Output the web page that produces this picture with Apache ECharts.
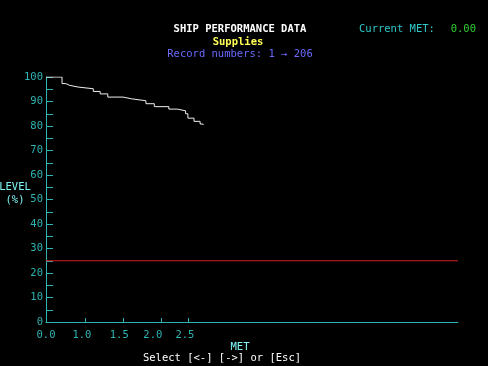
<!DOCTYPE html>
<html>
<head>
<meta charset="utf-8">
<script src="https://cdn.jsdelivr.net/npm/echarts@6/dist/echarts.min.js"></script>
<style>
html,body{margin:0;padding:0;background:#000;}
#chart{width:488px;height:366px;}
</style>
</head>
<body>
<div id="chart"></div>
<script>
// Data (x in record units along the MET axis, y = level %)
const xAxisMax = 540;
const levelRecords = [0, 21, 26, 31, 42, 62, 71, 81, 101, 112, 131, 142, 161, 172, 183, 186, 194, 202, 206];
const levelValues  = [100, 97.3, 96.6, 95.9, 95.2, 94.1, 93.1, 91.8, 91.1, 90.3, 89.1, 87.9, 86.9, 86.2, 85.0, 83.2, 81.9, 80.8, 80.5];
const thresholdLevel = 25;
const metTickRecords = [51, 101, 151, 186];
const metLabelRecords = [0, 47, 96, 140, 182];
const metLabelTexts = ['0.0', '1.0', '1.5', '2.0', '2.5'];

const FONT = 'DejaVu Sans Mono';
const CYAN = '#2fb4b4';
const LCYAN = '#7ff5f5';

const chart = echarts.init(document.getElementById('chart'));
const lineData = levelRecords.map((r, i) => [r, levelValues[i]]);
const thresholdData = [[0, thresholdLevel], [xAxisMax, thresholdLevel]];

chart.setOption({
  backgroundColor: '#000',
  animation: false,
  grid: {left: 46, right: 30, top: 77, bottom: 44},
  xAxis: {
    type: 'value', min: 0, max: xAxisMax,
    axisLine: {show: true, onZero: false, lineStyle: {color: CYAN, width: 1}},
    splitLine: {show: false},
    axisTick: {show: true, inside: true, length: 4, customValues: metTickRecords, lineStyle: {color: CYAN}},
    axisLabel: {
      customValues: metLabelRecords,
      color: CYAN, fontFamily: FONT, fontSize: 10.5, margin: 8,
      formatter: v => { const i = metLabelRecords.indexOf(v); return i >= 0 ? metLabelTexts[i] : ''; }
    }
  },
  yAxis: {
    type: 'value', min: 0, max: 100, interval: 5,
    axisLine: {show: true, lineStyle: {color: CYAN, width: 1}},
    splitLine: {show: false},
    axisTick: {show: true, inside: true, length: 7, lineStyle: {color: CYAN}},
    axisLabel: {
      color: CYAN, fontFamily: FONT, fontSize: 10.5, margin: 3,
      formatter: v => (v % 10 === 0 ? String(v) : '')
    }
  },
  series: [{
    type: 'line',
    data: thresholdData,
    symbol: 'none',
    silent: true,
    lineStyle: {color: '#d02020', width: 1.2},
    itemStyle: {color: '#d02020'}
  }, {
    type: 'line',
    data: lineData,
    step: 'end',
    symbol: 'none',
    lineStyle: {color: '#f0f0f0', width: 1},
    itemStyle: {color: '#f0f0f0'}
  }],
  graphic: [
    {type: 'text', x: 240, y: 29, style: {text: 'SHIP PERFORMANCE DATA', fill: '#ffffff', font: 'bold 10.5px ' + FONT, align: 'center', verticalAlign: 'middle'}},
    {type: 'text', x: 238, y: 42, style: {text: 'Supplies', fill: '#ffff55', font: 'bold 10.5px ' + FONT, align: 'center', verticalAlign: 'middle'}},
    {type: 'text', x: 240, y: 54, style: {text: 'Record numbers: 1 \u2192 206', fill: '#6a6aff', font: '10.5px ' + FONT, align: 'center', verticalAlign: 'middle'}},
    {type: 'text', x: 359, y: 29, style: {text: 'Current MET:', fill: '#2fc8c8', font: '10.5px ' + FONT, align: 'left', verticalAlign: 'middle'}},
    {type: 'text', x: 476, y: 29, style: {text: '0.00', fill: '#2fd02f', font: '10.5px ' + FONT, align: 'right', verticalAlign: 'middle'}},
    {type: 'text', x: 15, y: 187, style: {text: 'LEVEL', fill: LCYAN, font: '10.5px ' + FONT, align: 'center', verticalAlign: 'middle'}},
    {type: 'text', x: 15, y: 200, style: {text: '(%)', fill: LCYAN, font: '10.5px ' + FONT, align: 'center', verticalAlign: 'middle'}},
    {type: 'text', x: 240, y: 347, style: {text: 'MET', fill: LCYAN, font: '10.5px ' + FONT, align: 'center', verticalAlign: 'middle'}},
    {type: 'text', x: 222, y: 358, style: {text: 'Select [<-] [->] or [Esc]', fill: '#ffffff', font: '10.5px ' + FONT, align: 'center', verticalAlign: 'middle'}}
  ]
});
</script>
</body>
</html>
